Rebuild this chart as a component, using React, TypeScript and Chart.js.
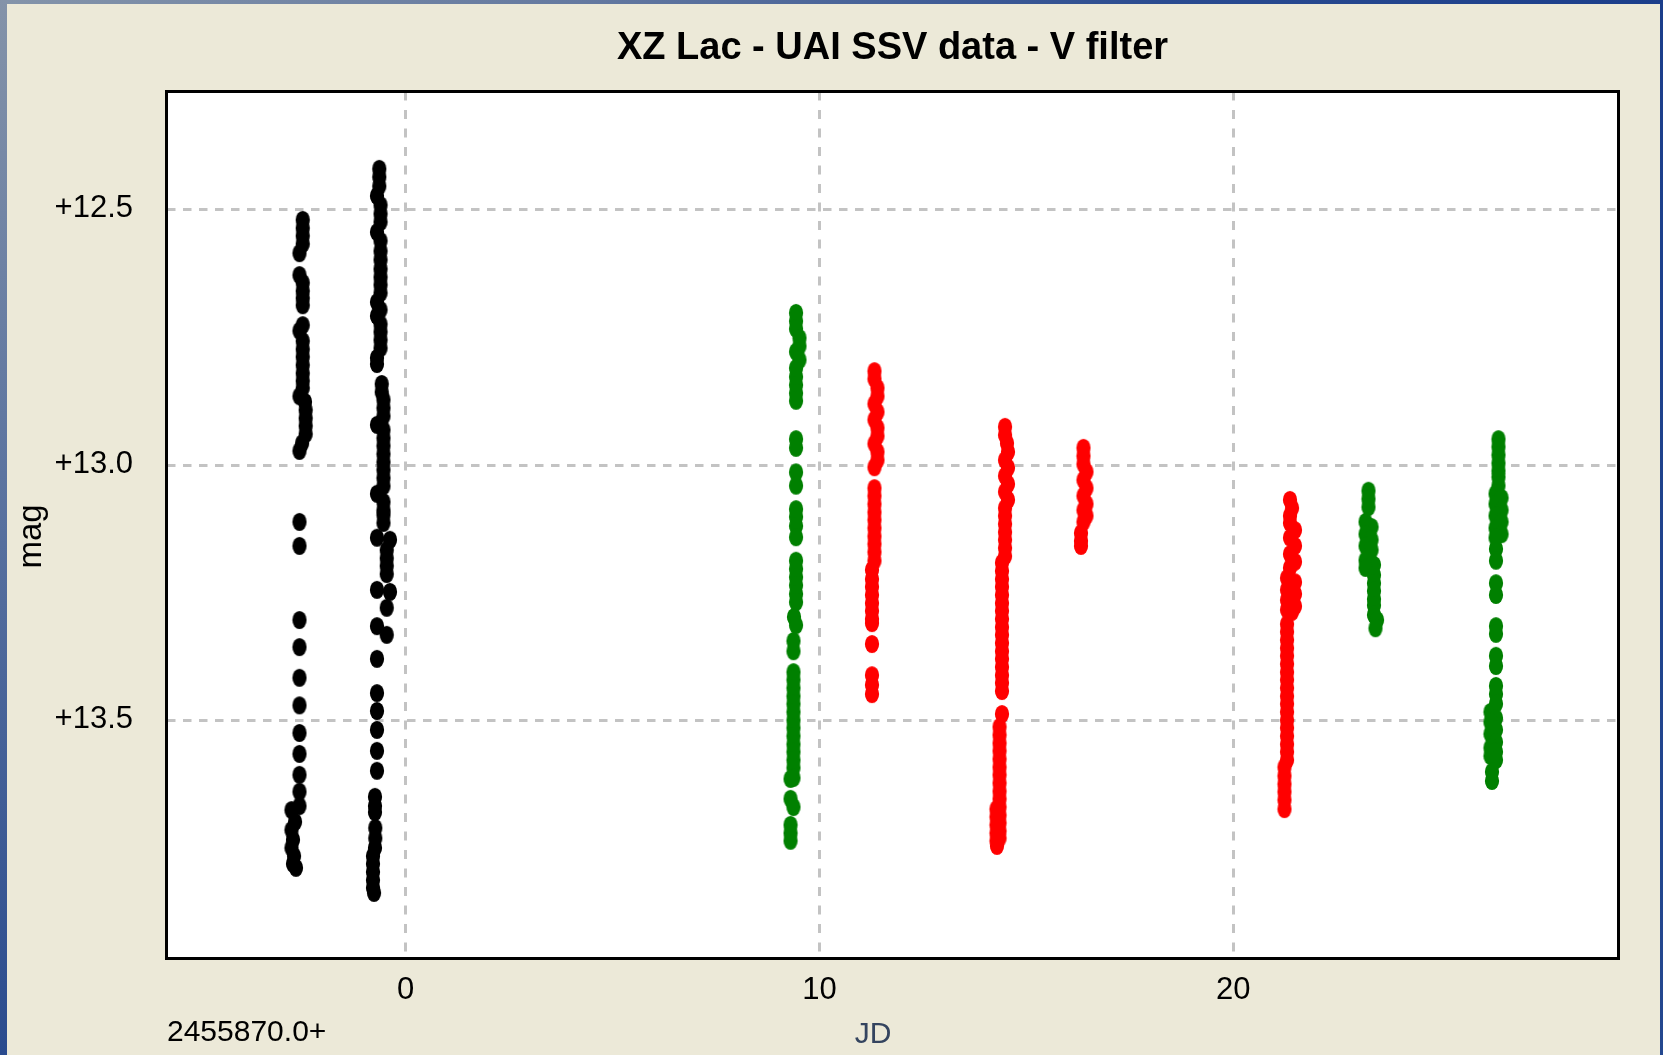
import React, { useEffect, useRef } from 'react';
import { Chart, registerables } from 'chart.js';

Chart.register(...registerables);

// ---------- texts ----------
const TITLE = 'XZ Lac - UAI SSV data - V filter';
const X_LABEL = 'JD';
const Y_LABEL = 'mag';
const JD_BASE_LABEL = '2455870.0+';

// ---------- axes ----------
const X_TICKS = [0, 10, 20];
const Y_TICKS = [12.5, 13.0, 13.5];
const X_MIN = -5.776;
const X_MAX = 29.309;
const Y_MIN = 12.2687;
const Y_MAX = 13.9654;

// ---------- data: [JD - 2455870.0, V mag] ----------
// black observer
const nightBlack1: [number, number][] = [
  [-2.485, 12.520], [-2.485, 12.536], [-2.485, 12.551], [-2.485, 12.567], [-2.563, 12.585],
  [-2.563, 12.628], [-2.485, 12.643], [-2.485, 12.659], [-2.485, 12.673], [-2.485, 12.687],
  [-2.485, 12.726], [-2.563, 12.737], [-2.485, 12.757], [-2.485, 12.773], [-2.485, 12.788],
  [-2.485, 12.804], [-2.485, 12.820], [-2.485, 12.835], [-2.485, 12.849], [-2.563, 12.865],
  [-2.430, 12.876], [-2.413, 12.892], [-2.413, 12.908], [-2.413, 12.923], [-2.413, 12.939],
  [-2.500, 12.957], [-2.563, 12.972],
  [-2.563, 13.111], [-2.563, 13.158], [-2.563, 13.303], [-2.563, 13.356], [-2.563, 13.416],
  [-2.563, 13.470], [-2.563, 13.524], [-2.563, 13.565], [-2.563, 13.606], [-2.563, 13.639],
  [-2.563, 13.667], [-2.756, 13.675], [-2.671, 13.698], [-2.756, 13.714], [-2.720, 13.733],
  [-2.756, 13.749], [-2.695, 13.765], [-2.720, 13.780], [-2.647, 13.788],
];
const nightBlack2: [number, number][] = [
  [-0.634, 12.420], [-0.634, 12.436], [-0.634, 12.454], [-0.690, 12.473], [-0.605, 12.491],
  [-0.605, 12.508], [-0.605, 12.524], [-0.690, 12.544], [-0.605, 12.561], [-0.605, 12.581],
  [-0.605, 12.598], [-0.605, 12.616], [-0.605, 12.632], [-0.605, 12.647], [-0.605, 12.663],
  [-0.690, 12.681], [-0.605, 12.696], [-0.690, 12.708], [-0.605, 12.724], [-0.605, 12.739],
  [-0.605, 12.755], [-0.605, 12.771], [-0.690, 12.790], [-0.690, 12.802],
  [-0.576, 12.841], [-0.576, 12.857], [-0.533, 12.872], [-0.533, 12.888], [-0.533, 12.904],
  [-0.690, 12.921], [-0.533, 12.931], [-0.533, 12.947], [-0.533, 12.962], [-0.533, 12.978],
  [-0.533, 12.994], [-0.533, 13.009], [-0.533, 13.025], [-0.533, 13.041], [-0.690, 13.056],
  [-0.533, 13.072], [-0.533, 13.088], [-0.533, 13.097], [-0.533, 13.113], [-0.690, 13.142],
  [-0.376, 13.146], [-0.455, 13.166], [-0.455, 13.182], [-0.455, 13.197], [-0.455, 13.213],
  [-0.690, 13.244], [-0.376, 13.248], [-0.455, 13.279], [-0.690, 13.315], [-0.455, 13.332],
  [-0.690, 13.379], [-0.690, 13.446], [-0.690, 13.481], [-0.690, 13.518], [-0.690, 13.559],
  [-0.690, 13.598], [-0.738, 13.649], [-0.738, 13.667], [-0.738, 13.679], [-0.731, 13.710],
  [-0.731, 13.730], [-0.738, 13.749], [-0.787, 13.765], [-0.787, 13.780], [-0.787, 13.796],
  [-0.787, 13.812], [-0.787, 13.827], [-0.762, 13.837],
];
// green observer
const nightGreen1: [number, number][] = [
  [9.435, 12.702], [9.435, 12.718], [9.435, 12.733], [9.519, 12.751], [9.519, 12.767],
  [9.435, 12.778], [9.519, 12.794], [9.435, 12.810], [9.435, 12.827], [9.435, 12.843],
  [9.435, 12.859], [9.435, 12.874], [9.435, 12.949], [9.435, 12.966], [9.435, 13.014],
  [9.435, 13.040], [9.435, 13.086], [9.435, 13.101], [9.435, 13.119], [9.435, 13.141],
  [9.435, 13.187], [9.435, 13.203], [9.435, 13.219], [9.435, 13.235], [9.435, 13.252],
  [9.435, 13.268], [9.386, 13.297], [9.435, 13.313], [9.374, 13.344], [9.374, 13.364],
  [9.374, 13.405], [9.374, 13.420], [9.374, 13.436], [9.374, 13.452], [9.374, 13.467],
  [9.374, 13.483], [9.374, 13.499], [9.374, 13.514], [9.374, 13.530], [9.374, 13.546],
  [9.374, 13.561], [9.374, 13.577], [9.374, 13.592], [9.374, 13.612], [9.302, 13.614],
  [9.302, 13.653], [9.374, 13.669], [9.302, 13.704], [9.302, 13.720], [9.302, 13.735],
];
const nightGreen2: [number, number][] = [
  [23.268, 13.050], [23.268, 13.066], [23.268, 13.082], [23.196, 13.111], [23.341, 13.121],
  [23.196, 13.135], [23.341, 13.146], [23.196, 13.158], [23.341, 13.166], [23.196, 13.186],
  [23.401, 13.195], [23.196, 13.201], [23.401, 13.215], [23.401, 13.231], [23.401, 13.246],
  [23.401, 13.262], [23.401, 13.274], [23.401, 13.293], [23.474, 13.303], [23.437, 13.319],
];
const nightGreen3: [number, number][] = [
  [26.409, 12.949], [26.409, 12.964], [26.409, 12.980], [26.409, 12.996], [26.409, 13.011],
  [26.409, 13.023], [26.409, 13.040], [26.337, 13.056], [26.482, 13.064], [26.337, 13.076],
  [26.482, 13.088], [26.337, 13.099], [26.482, 13.111], [26.337, 13.123], [26.482, 13.135],
  [26.337, 13.142], [26.349, 13.164], [26.349, 13.187], [26.349, 13.231], [26.349, 13.254],
  [26.349, 13.315], [26.349, 13.330], [26.349, 13.373], [26.349, 13.393], [26.349, 13.432],
  [26.349, 13.448], [26.349, 13.467], [26.216, 13.483], [26.349, 13.495], [26.216, 13.503],
  [26.349, 13.518], [26.216, 13.526], [26.349, 13.542], [26.216, 13.553], [26.349, 13.561],
  [26.216, 13.569], [26.349, 13.577], [26.252, 13.600], [26.252, 13.618],
];
// red observer
const nightRed1: [number, number][] = [
  [11.331, 12.816], [11.331, 12.831], [11.404, 12.849], [11.404, 12.865], [11.331, 12.880],
  [11.404, 12.896], [11.331, 12.911], [11.404, 12.927], [11.404, 12.943], [11.331, 12.958],
  [11.404, 12.974], [11.404, 12.990], [11.331, 13.004], [11.331, 13.045], [11.331, 13.060],
  [11.331, 13.076], [11.331, 13.092], [11.331, 13.107], [11.331, 13.123], [11.331, 13.139],
  [11.331, 13.154], [11.331, 13.170], [11.331, 13.187], [11.271, 13.205], [11.271, 13.223],
  [11.271, 13.238], [11.271, 13.254], [11.271, 13.270], [11.271, 13.285], [11.271, 13.301],
  [11.271, 13.309], [11.271, 13.350], [11.271, 13.411], [11.271, 13.430], [11.271, 13.448],
];
const nightRed2: [number, number][] = [
  [14.485, 12.925], [14.485, 12.941], [14.533, 12.957], [14.557, 12.974], [14.485, 12.990],
  [14.557, 13.005], [14.485, 13.021], [14.557, 13.037], [14.485, 13.052], [14.557, 13.068],
  [14.485, 13.084], [14.485, 13.099], [14.485, 13.115], [14.485, 13.131], [14.485, 13.146],
  [14.485, 13.162], [14.485, 13.178], [14.412, 13.191], [14.412, 13.207], [14.412, 13.223],
  [14.412, 13.238], [14.412, 13.254], [14.412, 13.270], [14.412, 13.285], [14.412, 13.301],
  [14.412, 13.317], [14.412, 13.332], [14.412, 13.348], [14.412, 13.364], [14.412, 13.379],
  [14.412, 13.395], [14.412, 13.411], [14.412, 13.426], [14.412, 13.442], [14.412, 13.487],
  [14.352, 13.512], [14.352, 13.528], [14.352, 13.544], [14.352, 13.559], [14.352, 13.575],
  [14.352, 13.591], [14.352, 13.606], [14.352, 13.622], [14.352, 13.638], [14.352, 13.653],
  [14.352, 13.669], [14.352, 13.685], [14.352, 13.700], [14.352, 13.716], [14.352, 13.730],
  [14.279, 13.673], [14.279, 13.688], [14.279, 13.704], [14.279, 13.720], [14.279, 13.735],
  [14.291, 13.745],
];
const nightRed3: [number, number][] = [
  [16.381, 12.966], [16.381, 12.982], [16.381, 12.998], [16.454, 13.013], [16.381, 13.029],
  [16.454, 13.045], [16.381, 13.060], [16.454, 13.076], [16.381, 13.088], [16.454, 13.099],
  [16.381, 13.111], [16.321, 13.133], [16.321, 13.148], [16.321, 13.158],
];
const nightRed4: [number, number][] = [
  [21.371, 13.068], [21.420, 13.084], [21.371, 13.099], [21.371, 13.113], [21.492, 13.127],
  [21.371, 13.142], [21.492, 13.158], [21.371, 13.174], [21.492, 13.189], [21.371, 13.201],
  [21.299, 13.221], [21.492, 13.229], [21.299, 13.244], [21.492, 13.252], [21.299, 13.264],
  [21.492, 13.276], [21.299, 13.283], [21.420, 13.287], [21.299, 13.311], [21.299, 13.326],
  [21.299, 13.342], [21.299, 13.358], [21.299, 13.373], [21.299, 13.389], [21.299, 13.405],
  [21.299, 13.420], [21.299, 13.436], [21.299, 13.452], [21.299, 13.467], [21.299, 13.483],
  [21.299, 13.499], [21.299, 13.514], [21.299, 13.530], [21.299, 13.546], [21.299, 13.561],
  [21.299, 13.577], [21.238, 13.591], [21.238, 13.608], [21.238, 13.624], [21.238, 13.639],
  [21.238, 13.655], [21.238, 13.673],
];

const SERIES: { name: string; color: string; nights: [number, number][][] }[] = [
  { name: 'black', color: '#000000', nights: [nightBlack1, nightBlack2] },
  { name: 'green', color: '#008000', nights: [nightGreen1, nightGreen2, nightGreen3] },
  { name: 'red', color: '#FF0000', nights: [nightRed1, nightRed2, nightRed3, nightRed4] },
];

const FONT_FAMILY = "'Liberation Sans', Arial, sans-serif";

function makeMarker(color: string): HTMLCanvasElement {
  const c = document.createElement('canvas');
  c.width = 16;
  c.height = 20;
  const g = c.getContext('2d')!;
  g.fillStyle = color;
  g.beginPath();
  g.ellipse(8, 10, 7.1, 9.1, 0, 0, Math.PI * 2);
  g.fill();
  return c;
}

const framePlugin = {
  id: 'xzFrame',
  beforeDraw(chart: any) {
    const { ctx, chartArea: a } = chart;
    ctx.save();
    ctx.fillStyle = '#FFFFFF';
    ctx.fillRect(a.left, a.top, a.right - a.left, a.bottom - a.top);
    ctx.restore();
  },
  afterDraw(chart: any) {
    const { ctx, chartArea: a } = chart;
    ctx.save();
    ctx.strokeStyle = '#000000';
    ctx.lineWidth = 3;
    ctx.setLineDash([]);
    ctx.strokeRect(a.left, a.top, a.right - a.left, a.bottom - a.top);

    // JD base label
    ctx.fillStyle = '#000000';
    ctx.font = `30px ${FONT_FAMILY}`;
    ctx.textAlign = 'left';
    ctx.textBaseline = 'alphabetic';
    ctx.fillText(JD_BASE_LABEL, a.left + 0.5, a.bottom + 82.5);

    // x axis title
    ctx.font = `30px ${FONT_FAMILY}`;
    ctx.fillStyle = '#34445F';
    ctx.textAlign = 'center';
    ctx.fillText(X_LABEL, a.left + 706.5, a.bottom + 84);

    // y axis title (rotated)
    ctx.fillStyle = '#000000';
    ctx.font = `33px ${FONT_FAMILY}`;
    ctx.translate(a.left - 125.5, 536.5);
    ctx.rotate(-Math.PI / 2);
    ctx.textAlign = 'center';
    ctx.textBaseline = 'alphabetic';
    ctx.fillText(Y_LABEL, 0, 0);
    ctx.restore();
  },
};

export default function App() {
  const canvasRef = useRef<HTMLCanvasElement | null>(null);

  useEffect(() => {
    const canvas = canvasRef.current;
    if (!canvas) return;
    const datasets = SERIES.map((s) => ({
      label: s.name,
      data: s.nights.flat().map(([x, y]) => ({ x, y })),
      pointStyle: makeMarker(s.color),
      pointRadius: 7,
      pointHoverRadius: 7,
      backgroundColor: s.color,
      borderColor: s.color,
      showLine: false,
    }));

    const chart = new Chart(canvas, {
      type: 'scatter',
      data: { datasets },
      options: {
        animation: false,
        responsive: false,
        devicePixelRatio: 1,
        events: [],
        layout: { padding: { left: 0, top: 0, right: 44.5, bottom: 0 } },
        plugins: {
          legend: { display: false },
          tooltip: { enabled: false },
          title: {
            display: true,
            text: TITLE,
            fullSize: false,
            color: '#000000',
            font: { family: FONT_FAMILY, size: 38, weight: 'bold', lineHeight: 1.2 },
            padding: { top: 26, bottom: 19.9 },
          },
        },
        scales: {
          x: {
            type: 'linear',
            position: 'bottom',
            min: X_MIN,
            max: X_MAX,
            afterBuildTicks: (scale: any) => {
              scale.ticks = X_TICKS.map((v) => ({ value: v }));
            },
            afterFit: (scale: any) => {
              scale.height = 96.5;
            },
            ticks: {
              color: '#000000',
              font: { family: FONT_FAMILY, size: 31, lineHeight: 1.2 },
              padding: 13,
              maxRotation: 0,
              autoSkip: false,
              callback: (v: any) => String(Math.round(Number(v))),
            },
            grid: {
              color: '#C3C3C3',
              lineWidth: 3,
              drawTicks: false,
            },
            border: { display: false, dash: [9, 9.5] },
          },
          y: {
            type: 'linear',
            position: 'left',
            reverse: true,
            min: Y_MIN,
            max: Y_MAX,
            afterBuildTicks: (scale: any) => {
              scale.ticks = Y_TICKS.map((v) => ({ value: v }));
            },
            afterFit: (scale: any) => {
              scale.width = 166.5;
            },
            ticks: {
              color: '#000000',
              font: { family: FONT_FAMILY, size: 31, lineHeight: 1.2 },
              padding: 33.5,
              labelOffset: -1,
              autoSkip: false,
              callback: (v: any) => '+' + Number(v).toFixed(1),
            },
            grid: {
              color: '#C3C3C3',
              lineWidth: 3,
              drawTicks: false,
            },
            border: { display: false, dash: [8.5, 7.5] },
          },
        },
      } as any,
      plugins: [framePlugin],
    });

    return () => {
      chart.destroy();
    };
  }, []);

  return (
    <div
      style={{
        position: 'fixed',
        left: 0,
        top: 0,
        width: 1663,
        height: 1055,
        overflow: 'hidden',
        background: '#ECE9D8',
      }}
    >
      <canvas
        ref={canvasRef}
        width={1663}
        height={1055}
        style={{ position: 'absolute', left: 0, top: 0, width: 1663, height: 1055 }}
      />
      <div
        style={{
          position: 'absolute',
          left: 0,
          top: 0,
          width: 1663,
          height: 4,
          background: 'linear-gradient(to right, #8494AA 0%, #6479A0 35%, #2A4B90 70%, #1B3E8B 100%)',
        }}
      />
      <div
        style={{
          position: 'absolute',
          left: 0,
          top: 0,
          width: 7,
          height: 1055,
          background: 'linear-gradient(to bottom, #8493A9 0%, #5C74A0 45%, #2A4B8E 100%)',
        }}
      />
      <div
        style={{
          position: 'absolute',
          left: 1660,
          top: 0,
          width: 3,
          height: 1055,
          background: 'linear-gradient(to bottom, #1B3E8B 0%, #24488F 100%)',
        }}
      />
    </div>
  );
}
